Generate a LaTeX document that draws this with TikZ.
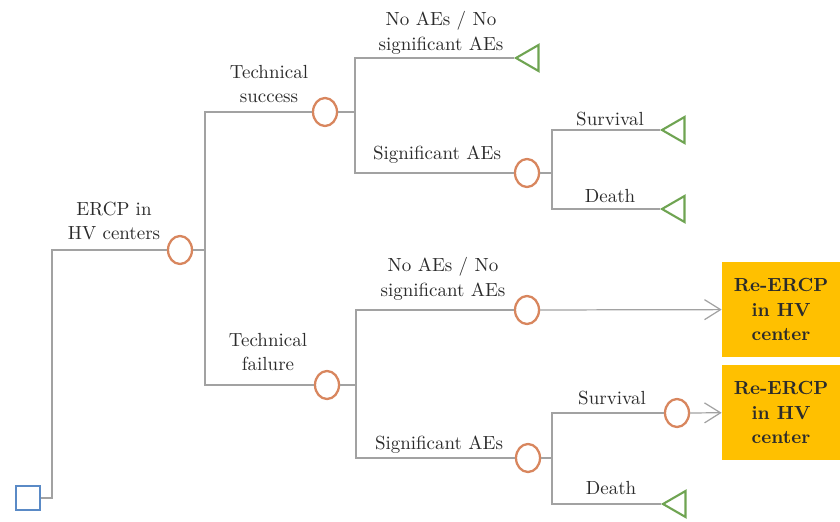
\documentclass[tikz,border=0pt]{standalone}
\usetikzlibrary{shapes.geometric,arrows.meta}
\definecolor{linegray}{HTML}{A2A2A2}
\definecolor{chanceorange}{HTML}{D8865E}
\definecolor{leafgreen}{HTML}{6FA452}
\definecolor{decisionblue}{HTML}{5A8AC6}
\definecolor{boxorange}{HTML}{FFC000}
\definecolor{textgray}{HTML}{2B2B2B}
\newcommand{\treefont}{\fontsize{10.8}{14}\selectfont}
\begin{document}
\begin{tikzpicture}[x=0.2mm,y=-0.2mm,
		branch/.style={draw=linegray, line width=0.7pt},
		chance/.style={ellipse, draw=chanceorange, line width=1.3pt, minimum width=4.8mm, minimum height=5.6mm, inner sep=0pt},
		decision/.style={rectangle, draw=decisionblue, line width=1.4pt, minimum size=4.8mm, inner sep=0pt},
		terminal/.style={regular polygon, regular polygon sides=3, shape border rotate=90, draw=leafgreen, line width=1.2pt, minimum size=6mm, inner sep=0pt},
		btext/.style={align=center, text=textgray, font=\treefont, inner sep=0pt},
		outcome/.style={fill=boxorange, minimum width=23.6mm, minimum height=19mm, align=center, text=textgray, font=\treefont\bfseries},
		toarrow/.style={branch, -{Straight Barb[length=3.2mm,width=4mm]}}]
				\useasboundingbox (0,0) rectangle (840,522);

				\node[decision] (root) at (28,498) {};
				\node[chance] (ercp) at (180,250) {};
				\node[chance] (tsucc) at (325,112) {};
				\node[chance] (tfail) at (327,385) {};
				\node[terminal] (tsnoae) at (531,58) {};
				\node[chance] (tssae) at (527,173) {};
				\node[terminal] (tssurv) at (677,130) {};
				\node[terminal] (tsdeath) at (677,209) {};
				\node[chance] (tfnoae) at (527,310) {};
				\node[chance] (tfsae) at (528,458) {};
				\node[chance] (tfsurv) at (677,413) {};
				\node[terminal] (tfdeath) at (678,504) {};
				\node[outcome] (reercpa) at (781,309.5) {Re-ERCP\\in HV\\center};
				\node[outcome] (reercpb) at (781,412.5) {Re-ERCP\\in HV\\center};

				\coordinate (j0) at (52,0);
				\coordinate (j1) at (205,0);
				\coordinate (j2) at (355,0);
				\coordinate (j3) at (356,0);
				\coordinate (j4) at (552,0);

				\draw[branch] (root) -- (root -| j0) |- (ercp);
				\draw[branch] (ercp) -- (ercp -| j1) |- (tsucc);
				\draw[branch] (ercp -| j1) |- (tfail);
				\draw[branch] (tsucc) -- (tsucc -| j2) |- (tsnoae);
				\draw[branch] (tsucc -| j2) |- (tssae);
				\draw[branch] (tssae) -- (tssae -| j4) |- (tssurv);
				\draw[branch] (tssae -| j4) |- (tsdeath);
				\draw[branch] (tfail) -- (tfail -| j3) |- (tfnoae);
				\draw[branch] (tfail -| j3) |- (tfsae);
				\draw[branch] (tfsae) -- (tfsae -| j4) |- (tfsurv);
				\draw[branch] (tfsae -| j4) |- (tfdeath);
				\draw[toarrow] (tfnoae) -- (reercpa);
				\draw[toarrow] (tfsurv) -- (reercpb);

				\node[btext] (lercp) at (114,221) {ERCP in\\HV centers};
				\node[btext] (ltsucc) at (269,84) {Technical\\success};
				\node[btext] (ltfail) at (268,352) {Technical\\failure};
				\node[btext] (ltsnoae) at (441,33) {No AEs / No\\significant AEs};
				\node[btext] (ltssae) at (437,155) {Significant AEs};
				\node[btext] (ltssurv) at (610,119) {Survival};
				\node[btext] (ltsdeath) at (610,196) {Death};
				\node[btext] (ltfnoae) at (443,279) {No AEs / No\\significant AEs};
				\node[btext] (ltfsae) at (439,445) {Significant AEs};
				\node[btext] (ltfsurv) at (612,398) {Survival};
				\node[btext] (ltfdeath) at (611,488) {Death};
			\end{tikzpicture}
\end{document}
